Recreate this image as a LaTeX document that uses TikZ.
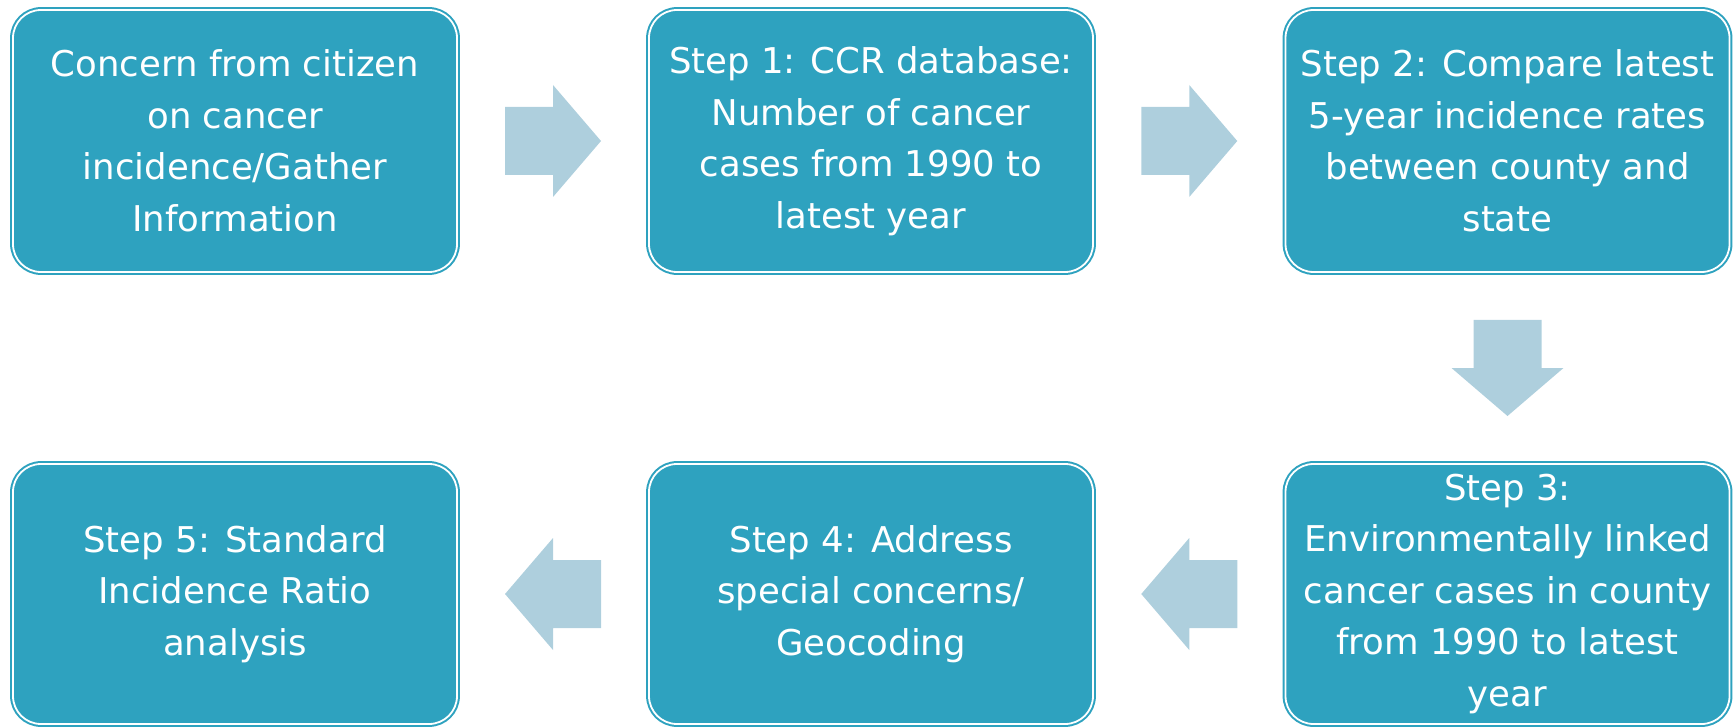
\documentclass[tikz,border=0pt]{standalone}
\usepackage{fontspec}
\setmainfont{DejaVu Sans}
\usetikzlibrary{calc}
\definecolor{boxteal}{RGB}{46,162,191}
\definecolor{arrowblue}{RGB}{174,207,221}
\tikzset{
  stepbox/.style={rectangle, rounded corners=28pt, fill=boxteal, draw=boxteal,
    line width=2pt, double=white, double distance=1.8pt, inner sep=0pt,
    minimum width=444pt, align=center, text=white,
    font=\fontsize{35.5}{51.5}\selectfont},
  toprow/.style={minimum height=262pt},
  botrow/.style={minimum height=260pt},
  barrow/.pic={\fill[arrowblue] (-48pt,-34pt) -- (0pt,-34pt) -- (0pt,-56pt) -- (48pt,0pt) -- (0pt,56pt) -- (0pt,34pt) -- (-48pt,34pt) -- cycle;}
}
\begin{document}
\begin{tikzpicture}[x=1pt,y=-1pt]
\useasboundingbox (0,0) rectangle (1735,727);
\node[stepbox,toprow] (b1) at (235,141) {Concern from citizen\\on cancer\\incidence/Gather\\Information};
\node[stepbox,toprow] (b2) at (871,141) {Step 1: CCR database:\\Number of cancer\\cases from 1990 to\\latest year};
\node[stepbox,toprow] (b3) at (1507.5,141) {Step 2: Compare latest\\5-year incidence rates\\between county and\\state};
\node[stepbox,botrow] (b6) at (1507.5,594) {Step 3:\\Environmentally linked\\cancer cases in county\\from 1990 to latest\\year};
\node[stepbox,botrow] (b4) at (871,594) {Step 4: Address\\special concerns/\\Geocoding};
\node[stepbox,botrow] (b5) at (235,594) {Step 5: Standard\\Incidence Ratio\\analysis};
\pic at ($(b1.east)!0.5!(b2.west)$) {barrow};
\pic at ($(b2.east)!0.5!(b3.west)$) {barrow};
\pic[rotate=-90] at ($(b3.south)!0.5!(b6.north)$) {barrow};
\pic[rotate=180] at ($(b6.west)!0.5!(b4.east)$) {barrow};
\pic[rotate=180] at ($(b4.west)!0.5!(b5.east)$) {barrow};
\end{tikzpicture}
\end{document}
